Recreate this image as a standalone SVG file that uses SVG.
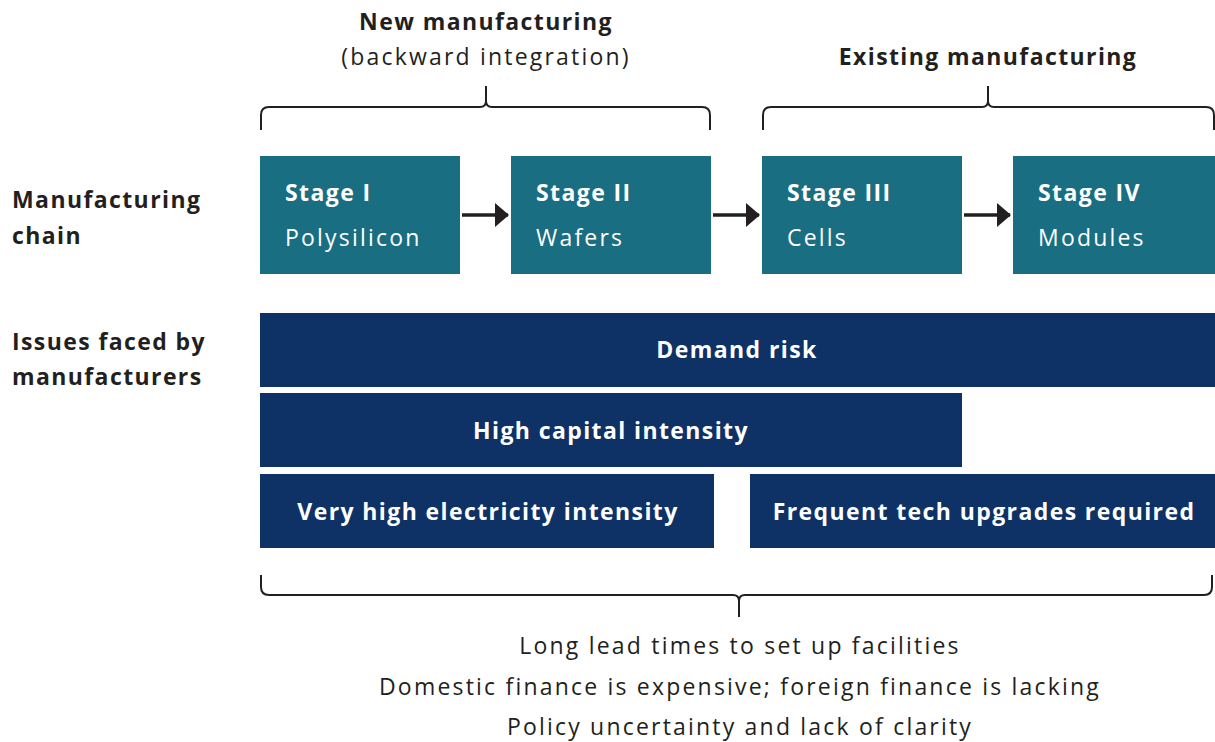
<svg xmlns="http://www.w3.org/2000/svg" width="1215" height="742" viewBox="0 0 1215 742">
<defs>
<style>
text{font-family:"Open Sans","Liberation Sans",sans-serif;font-size:23px;letter-spacing:2.2px;}
.b{font-weight:bold;letter-spacing:1.4px;}
.dk{fill:#231f20;}
.w{fill:#ffffff;}
.stage{fill:#1a6e82;}
.issue{fill:#0e3166;}
.br{fill:none;stroke:#231f20;stroke-width:2;}
.ar{stroke:#231f20;stroke-width:3.5;fill:none;}
.c{text-anchor:middle;}
</style>
<marker id="ah" viewBox="0 0 14 24" refX="13" refY="12" markerWidth="4" markerHeight="6.86" markerUnits="strokeWidth" orient="auto">
<path d="M0,0 L14,12 L0,24 z" fill="#231f20"/>
</marker>
</defs>
<rect width="1215" height="742" fill="#ffffff"/>

<g id="headers">
<text class="b dk c" x="486" y="30">New manufacturing</text>
<text class="dk c" x="486" y="65">(backward integration)</text>
<text class="b dk c" x="988" y="65">Existing manufacturing</text>
</g>

<g id="brackets">
<path class="br" d="M261,130 V115 Q261,107 269,107 H480 Q486,107 486,101 V86 M486,101 Q486,107 492,107 H702 Q710,107 710,115 V130"/>
<path class="br" d="M763,130 V115 Q763,107 771,107 H982 Q988,107 988,101 V86 M988,101 Q988,107 994,107 H1206 Q1214,107 1214,115 V130"/>
<path class="br" d="M261,575 V587 Q261,595 269,595 H733 Q739,595 739,601 V617 M739,601 Q739,595 745,595 H1204 Q1212,595 1212,587 V575"/>
</g>

<g id="row-labels">
<text class="b dk" x="12" y="208">Manufacturing</text>
<text class="b dk" x="12" y="244">chain</text>
<text class="b dk" x="12" y="350">Issues faced by</text>
<text class="b dk" x="12" y="385">manufacturers</text>
</g>

<g id="stage1"><rect class="stage" x="260" y="156" width="200" height="118"/>
<text class="b w" x="285" y="201">Stage I</text><text class="w" x="285" y="246">Polysilicon</text></g>
<g id="stage2"><rect class="stage" x="511" y="156" width="200" height="118"/>
<text class="b w" x="536" y="201">Stage II</text><text class="w" x="536" y="246">Wafers</text></g>
<g id="stage3"><rect class="stage" x="762" y="156" width="200" height="118"/>
<text class="b w" x="787" y="201">Stage III</text><text class="w" x="787" y="246">Cells</text></g>
<g id="stage4"><rect class="stage" x="1013" y="156" width="202" height="118"/>
<text class="b w" x="1038" y="201">Stage IV</text><text class="w" x="1038" y="246">Modules</text></g>

<g id="connectors">
<line class="ar" x1="462" y1="215" x2="508" y2="215" marker-end="url(#ah)"/>
<line class="ar" x1="713" y1="215" x2="759" y2="215" marker-end="url(#ah)"/>
<line class="ar" x1="964" y1="215" x2="1010" y2="215" marker-end="url(#ah)"/>
</g>

<g id="demand-risk"><rect class="issue" x="260" y="313" width="955" height="74"/>
<text class="b w c" x="737" y="358">Demand risk</text></g>
<g id="capital"><rect class="issue" x="260" y="393" width="702" height="74"/>
<text class="b w c" x="611" y="439">High capital intensity</text></g>
<g id="electricity"><rect class="issue" x="260" y="474" width="454" height="74"/>
<text class="b w c" x="488" y="520">Very high electricity intensity</text></g>
<g id="tech"><rect class="issue" x="750" y="474" width="465" height="74"/>
<text class="b w c" x="984" y="520">Frequent tech upgrades required</text></g>

<g id="footer">
<text class="dk c" x="740" y="654">Long lead times to set up facilities</text>
<text class="dk c" x="740" y="695">Domestic finance is expensive; foreign finance is lacking</text>
<text class="dk c" x="740" y="735">Policy uncertainty and lack of clarity</text>
</g>
</svg>
